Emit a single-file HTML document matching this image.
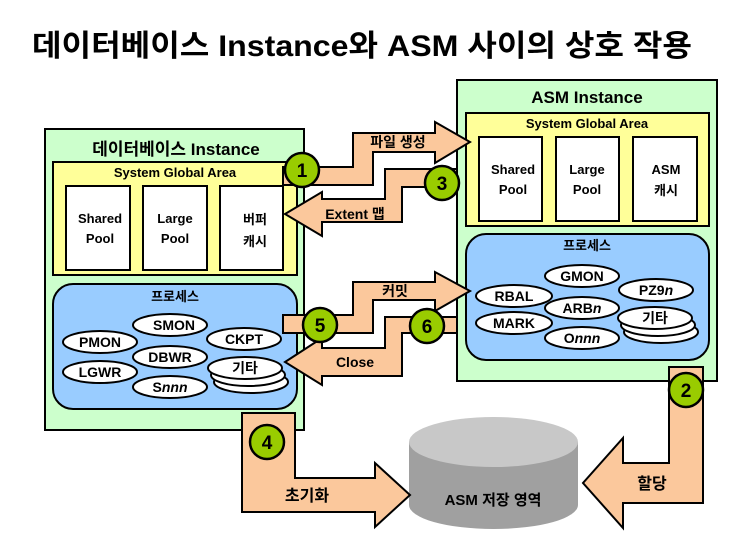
<!DOCTYPE html>
<html><head><meta charset="utf-8"><style>
html,body{margin:0;padding:0;background:#fff;}
svg{display:block;}
text{font-family:"Liberation Sans","Noto Sans CJK KR",sans-serif;font-weight:bold;fill:#000;}
</style></head><body>
<svg width="747" height="535" viewBox="0 0 747 535" xmlns="http://www.w3.org/2000/svg">
<text x="32" y="56" font-size="30" textLength="660" lengthAdjust="spacingAndGlyphs">데이터베이스 Instance와 ASM 사이의 상호 작용</text>

<!-- Left instance -->
<rect x="45" y="129" width="259" height="301" fill="#ccffcc" stroke="#000" stroke-width="2"/>
<text x="176" y="155" font-size="17" text-anchor="middle">데이터베이스 Instance</text>
<rect x="53" y="162" width="244" height="113" fill="#ffff99" stroke="#000" stroke-width="2"/>
<text x="175" y="177" font-size="13" text-anchor="middle">System Global Area</text>
<rect x="66" y="186" width="64" height="84" fill="#fff" stroke="#000" stroke-width="2"/>
<rect x="143" y="186" width="64" height="84" fill="#fff" stroke="#000" stroke-width="2"/>
<rect x="220" y="186" width="63" height="84" fill="#fff" stroke="#000" stroke-width="2"/>
<g font-size="13" text-anchor="middle">
<text x="100" y="223">Shared</text>
<text x="100" y="243">Pool</text>
<text x="175" y="223">Large</text>
<text x="175" y="243">Pool</text>
<text x="255" y="224">버퍼</text>
<text x="255" y="246">캐시</text>
</g>
<rect x="53" y="284" width="244" height="125" rx="20" fill="#99ccff" stroke="#000" stroke-width="2"/>
<text x="175" y="301" font-size="13" text-anchor="middle">프로세스</text>
<g stroke="#000" stroke-width="2" fill="#fff">
<ellipse cx="170" cy="325" rx="37" ry="11"/>
<ellipse cx="100" cy="342" rx="37" ry="11"/>
<ellipse cx="244" cy="339" rx="37" ry="11"/>
<ellipse cx="170" cy="357" rx="37" ry="11"/>
<ellipse cx="100" cy="372" rx="37" ry="11"/>
<ellipse cx="170" cy="387" rx="37" ry="11"/>
<ellipse cx="251" cy="382" rx="37" ry="11"/>
<ellipse cx="248" cy="375" rx="37" ry="11"/>
<ellipse cx="245" cy="368" rx="37" ry="11"/>
</g>
<g font-size="14" text-anchor="middle">
<text x="174" y="330">SMON</text>
<text x="100" y="347">PMON</text>
<text x="244" y="344">CKPT</text>
<text x="170" y="362">DBWR</text>
<text x="100" y="377">LGWR</text>
<text x="170" y="392">S<tspan font-style="italic">nnn</tspan></text>
<text x="245" y="373">기타</text>
</g>

<!-- Right instance -->
<rect x="457" y="80" width="260" height="301" fill="#ccffcc" stroke="#000" stroke-width="2"/>
<text x="587" y="103" font-size="17" text-anchor="middle">ASM Instance</text>
<rect x="466" y="113" width="243" height="113" fill="#ffff99" stroke="#000" stroke-width="2"/>
<text x="587" y="128" font-size="13" text-anchor="middle">System Global Area</text>
<rect x="479" y="137" width="63" height="84" fill="#fff" stroke="#000" stroke-width="2"/>
<rect x="556" y="137" width="63" height="84" fill="#fff" stroke="#000" stroke-width="2"/>
<rect x="633" y="137" width="64" height="84" fill="#fff" stroke="#000" stroke-width="2"/>
<g font-size="13" text-anchor="middle">
<text x="513" y="174">Shared</text>
<text x="513" y="194">Pool</text>
<text x="587" y="174">Large</text>
<text x="587" y="194">Pool</text>
<text x="666" y="174">ASM</text>
<text x="666" y="195">캐시</text>
</g>
<rect x="466" y="234" width="243" height="126" rx="20" fill="#99ccff" stroke="#000" stroke-width="2"/>
<text x="587" y="250" font-size="13" text-anchor="middle">프로세스</text>
<g stroke="#000" stroke-width="2" fill="#fff">
<ellipse cx="582" cy="276" rx="37" ry="11"/>
<ellipse cx="514" cy="296" rx="38" ry="11"/>
<ellipse cx="656" cy="290" rx="37" ry="11"/>
<ellipse cx="582" cy="308" rx="37" ry="11"/>
<ellipse cx="514" cy="323" rx="38" ry="11"/>
<ellipse cx="582" cy="338" rx="37" ry="11"/>
<ellipse cx="661" cy="332" rx="37" ry="11"/>
<ellipse cx="658" cy="325" rx="37" ry="11"/>
<ellipse cx="655" cy="318" rx="37" ry="11"/>
</g>
<g font-size="14" text-anchor="middle">
<text x="582" y="281">GMON</text>
<text x="514" y="301">RBAL</text>
<text x="656" y="295">PZ9<tspan font-style="italic">n</tspan></text>
<text x="582" y="313">ARB<tspan font-style="italic">n</tspan></text>
<text x="514" y="328">MARK</text>
<text x="582" y="343">O<tspan font-style="italic">nnn</tspan></text>
<text x="655" y="323">기타</text>
</g>

<!-- Cylinder -->
<path d="M409,442 L409,505 A84.5,24 0 0 0 578,505 L578,442 Z" fill="#a0a0a0"/>
<ellipse cx="493.5" cy="442" rx="84.5" ry="25" fill="#c8c8c8"/>
<text x="493" y="505" font-size="15" text-anchor="middle" fill="#111">ASM 저장 영역</text>

<!-- Arrows -->
<g fill="#fbc89c" stroke="#000" stroke-width="2" stroke-linejoin="miter">
<polygon points="283,167 353,167 353,133 435,133 435,122 470,142 435,163 435,152 373,152 373,185 283,185"/>
<polygon points="457,169 385,169 385,199 322,199 322,192 285,214 322,236 322,222 402,222 402,187 457,187"/>
<polygon points="283,315 353,315 353,282 435,282 435,272 470,291 435,311 435,300 373,300 373,333 283,333"/>
<polygon points="457,317 385,317 385,348 322,348 322,338 285,362 322,385 322,376 402,376 402,333 457,333"/>
<polygon points="242,413 295,413 295,478 375,478 375,463 410,495 375,527 375,512 242,512"/>
<polygon points="669,367 703,367 703,503 623,503 623,528 583,483 623,438 623,463 669,463"/>
</g>
<g font-size="14">
<text x="398" y="147" text-anchor="middle">파일 생성</text>
<text x="355" y="219" text-anchor="middle">Extent 맵</text>
<text x="395" y="296" text-anchor="middle">커밋</text>
<text x="355" y="367" text-anchor="middle">Close</text>
<text x="307" y="501" text-anchor="middle" font-size="16">초기화</text>
<text x="652" y="489" text-anchor="middle" font-size="16">할당</text>
</g>

<!-- Circles -->
<g fill="#99cc00" stroke="#000" stroke-width="2.5">
<circle cx="302" cy="170" r="17"/>
<circle cx="442" cy="183" r="17"/>
<circle cx="320" cy="325" r="17"/>
<circle cx="427" cy="326" r="17"/>
<circle cx="686" cy="390" r="17"/>
<circle cx="267" cy="442" r="17"/>
</g>
<g font-size="19" text-anchor="middle">
<text x="302" y="177">1</text>
<text x="442" y="190">3</text>
<text x="320" y="332">5</text>
<text x="427" y="333">6</text>
<text x="686" y="397">2</text>
<text x="267" y="449">4</text>
</g>
</svg>
</body></html>
